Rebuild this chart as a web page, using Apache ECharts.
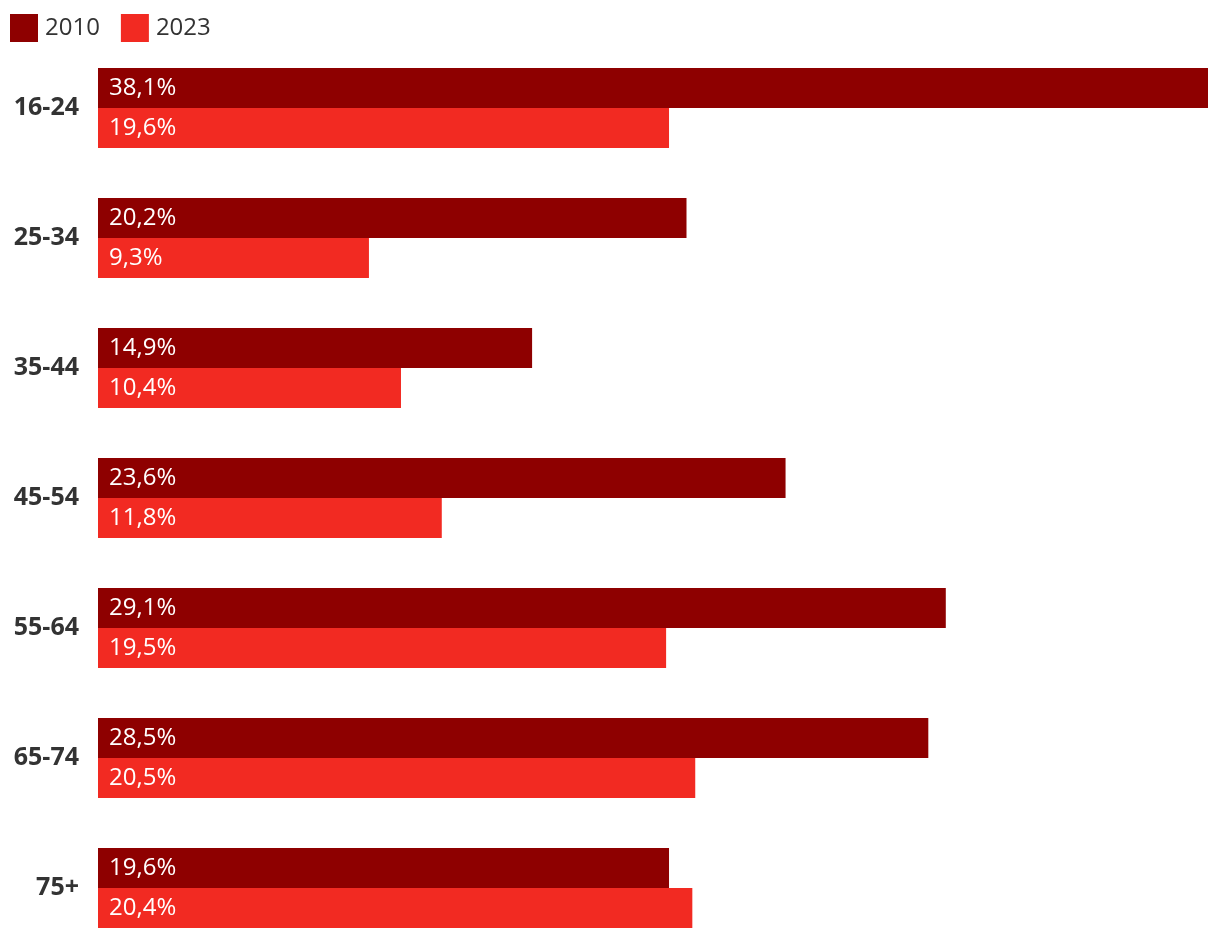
<!DOCTYPE html>
<html><head><meta charset="utf-8">
<script src="https://cdn.jsdelivr.net/npm/echarts@6/dist/echarts.min.js"></script>
<style>html,body{margin:0;padding:0;background:#fff}#c{width:1220px;height:940px}</style>
</head><body><div id="c"></div>
<script>
const categories = ['16-24','25-34','35-44','45-54','55-64','65-74','75+'];
const seriesNames = ['2010','2023'];
const values2010 = [38.1, 20.2, 14.9, 23.6, 29.1, 28.5, 19.6];
const values2023 = [19.6, 9.3, 10.4, 11.8, 19.5, 20.5, 20.4];
const colors = ['#8E0000', '#F22A22'];
const font = '"Open Sans", sans-serif';
const chart = echarts.init(document.getElementById('c'), null, {renderer:'canvas'});
const fmt = p => p.value.toFixed(1).replace('.', ',') + '%';
const mk = (name, data, color) => ({
  name, type:'bar', data, barWidth:40, barGap:'0%',
  itemStyle:{color}, animation:false,
  label:{show:true, position:'insideLeft', distance:11, color:'#fff', fontSize:24, fontWeight:'normal', fontFamily:font, formatter:fmt}
});
chart.setOption({
  animation:false,
  legend:{left:10, top:14, padding:0, itemWidth:28, itemHeight:28, itemGap:21, icon:'rect',
    textStyle:{fontSize:24, color:'#333', fontFamily:font, padding:[0,0,0,2]},
    data:seriesNames},
  grid:{left:98, right:12, top:43, height:910, outerBoundsMode:'none', containLabel:false},
  xAxis:{type:'value', min:0, max:38.1, show:false},
  yAxis:{type:'category', data:categories, inverse:true,
    axisLine:{show:false}, axisTick:{show:false},
    axisLabel:{margin:19, fontSize:25, fontWeight:'bold', color:'#333', fontFamily:font}},
  series:[mk(seriesNames[0], values2010, colors[0]), mk(seriesNames[1], values2023, colors[1])]
});
</script></body></html>
